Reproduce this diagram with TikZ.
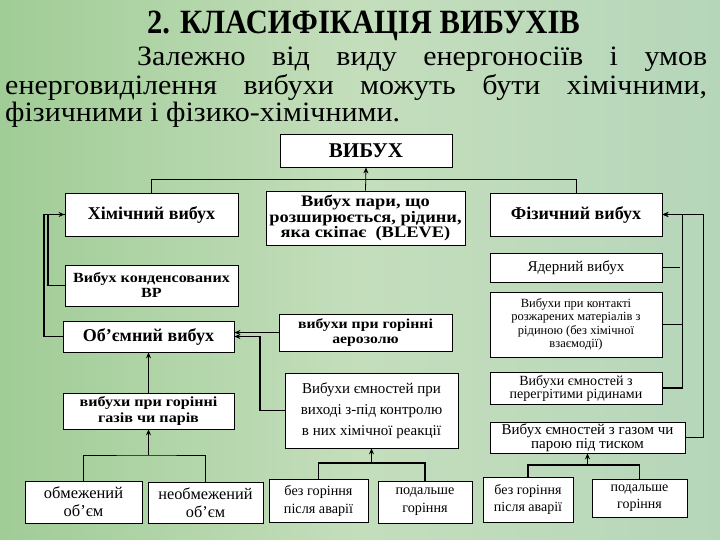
\documentclass[tikz,border=0pt]{standalone}
\usepackage{fontspec}
\setmainfont{Liberation Serif}
\newfontfamily\wideserif[FakeStretch=1.15]{Liberation Serif}
\newfontfamily\titleserif[FakeStretch=0.9]{Liberation Serif}
\usepackage{graphicx}
\usetikzlibrary{arrows.meta}
\definecolor{bgA}{RGB}{160,204,150}
\definecolor{bgB}{RGB}{196,222,188}
\definecolor{bgC}{RGB}{182,214,186}
\tikzset{
  box/.style={draw=black, line width=0.8pt, fill=white, inner sep=1pt, align=center, text=black},
  bbox/.style={box, font=\bfseries\fontsize{18}{18}\selectfont},
  wbox/.style={box, font=\wideserif\bfseries\fontsize{14}{15}\selectfont},
  nbox/.style={box, font=\fontsize{14}{16}\selectfont},
  thinline/.style={line width=0.8pt},
  thickline/.style={line width=1.8pt},
  arr/.style={-{Stealth[length=6pt,width=5pt]}},
  para/.style={anchor=base west, inner sep=0, font=\fontsize{28}{28}\selectfont}
}
\begin{document}
\begin{tikzpicture}[x=1pt,y=-1pt]
\useasboundingbox (0,0) rectangle (720,540);
\shade[left color=bgA, right color=bgC, middle color=bgB] (0,0) rectangle (720,540);
% title and paragraph
\node[anchor=base, inner sep=0, font=\titleserif\bfseries\fontsize{34}{34}\selectfont] (title) at (363.5,34) {2. КЛАСИФІКАЦІЯ ВИБУХІВ};
\node[para] (p1) at (137,66) {\scalebox{1.07}[1]{\makebox[532.7pt][s]{Залежно від виду енергоносіїв і умов}}};
\node[para] (p2) at (5,95) {\scalebox{1.07}[1]{\makebox[656pt][s]{енерговиділення вибухи можуть бути хімічними,}}};
\node[para] (p3) at (5,122) {\scalebox{1.07}[1]{фізичними і фізико-хімічними.}};
% boxes
\node[bbox, minimum width=172pt, minimum height=33pt, font=\bfseries\fontsize{21}{21}\selectfont] (vib) at (366,150.5) {ВИБУХ};
\node[bbox, minimum width=173pt, minimum height=43pt] (chem) at (151.5,214.5) {Хімічний вибух};
\node[wbox, minimum width=199pt, minimum height=54pt, font=\wideserif\bfseries\fontsize{16}{14.5}\selectfont] (bleve) at (365.5,218) {Вибух пари, що\\розширюється, рідини,\\яка скіпає\ \ (BLEVE)};
\node[bbox, minimum width=172pt, minimum height=43pt] (phys) at (576,214.5) {Фізичний вибух};
\node[nbox, minimum width=172pt, minimum height=29pt, font=\fontsize{15}{15}\selectfont] (nucl) at (576,267.5) {Ядерний вибух};
\node[nbox, minimum width=172pt, minimum height=65pt, font=\fontsize{12.5}{13.5}\selectfont] (contact) at (576,324.5) {Вибухи при контакті\\розжарених матеріалів з\\рідиною (без хімічної\\взаємодії)};
\node[nbox, minimum width=172pt, minimum height=32pt, font=\fontsize{14}{13}\selectfont] (overheat) at (576,388) {Вибухи ємностей з\\перегрітими рідинами};
\node[nbox, minimum width=195pt, minimum height=31pt, font=\fontsize{15}{13.5}\selectfont] (gasp) at (587.5,437.5) {Вибух ємностей з газом чи\\парою під тиском};
\node[wbox, minimum width=173pt, minimum height=41pt] (cond) at (151.5,285.5) {Вибух конденсованих\\ВР};
\node[bbox, minimum width=171pt, minimum height=31pt] (vol) at (148.5,336.5) {Об’ємний вибух};
\node[wbox, minimum width=173pt, minimum height=37pt, font=\wideserif\bfseries\fontsize{13.7}{15}\selectfont] (aer) at (365.5,332.5) {вибухи при горінні\\аерозолю};
\node[nbox, minimum width=173pt, minimum height=75pt, font=\fontsize{15}{21}\selectfont] (tank) at (371.5,410.5) {Вибухи ємностей при\\виході з-під контролю\\в них хімічної реакції};
\node[wbox, minimum width=171pt, minimum height=36pt, font=\wideserif\bfseries\fontsize{14}{16}\selectfont] (gasv) at (148.5,411) {вибухи при горінні\\газів чи парів};
\node[nbox, minimum width=117pt, minimum height=42pt, font=\fontsize{16.5}{18}\selectfont] (lim) at (83.5,502) {обмежений\\об’єм};
\node[nbox, minimum width=115pt, minimum height=41pt, font=\fontsize{16.3}{18}\selectfont] (unlim) at (205.5,502.5) {необмежений\\об’єм};
\node[nbox, minimum width=99pt, minimum height=43pt, font=\fontsize{14.2}{18}\selectfont] (nob1) at (318.5,500.5) {без горіння\\після аварії};
\node[nbox, minimum width=94pt, minimum height=42pt, font=\fontsize{14.2}{18}\selectfont] (fur1) at (425,502) {подальше\\горіння};
\node[nbox, minimum width=90pt, minimum height=45pt, font=\fontsize{14}{17}\selectfont] (nob2) at (528,499.5) {без горіння\\після аварії};
\node[nbox, minimum width=95pt, minimum height=38pt, font=\fontsize{14}{17}\selectfont] (fur2) at (639.5,498) {подальше\\горіння};
% junction coordinates
\coordinate (j1) at (148.5,455);
\coordinate (j2) at (371.5,463);
\coordinate (j3) at (587.5,465);
% connectors
\draw[thinline] (chem.north) -- ++(0,-13) -| (phys.north);
\draw[thinline, arr] (bleve.north) -- (vib.south);
\draw[thickline, arr] (vol.west) -- ++(-19,0) |- (chem.west);
\draw[thickline] (cond.west) -- ++(-17,0) |- (chem.west);
\draw[thinline, arr] (gasv.north) -- (vol.south);
\draw[thickline, arr] (aer.west) -- (aer.west -| vol.east);
\draw[thickline, arr] (tank.west) -- ++(-25,0) |- (vol.east);
\draw[thinline] (lim.north) |- (j1) -| (unlim.north);
\draw[thinline, arr] (j1) -- (gasv.south);
\draw[thickline] (nob1.north) |- (j2) -| (fur1.north);
\draw[thinline, arr] (j2) -- (tank.south);
\draw[thickline] (nob2.north) |- (j3) -| (fur2.north);
\draw[thickline, arr] (j3) -- (gasp.south);
\draw[thickline, arr] (overheat.east) -- ++(20,0) |- (phys.east);
\draw[thickline] (contact.east) -- ++(20,0);
\draw[thinline] (nucl.east) -- ++(18,0);
\draw[thickline, arr] (gasp.east) -- ++(18,0) |- (phys.east);
\end{tikzpicture}
\end{document}
